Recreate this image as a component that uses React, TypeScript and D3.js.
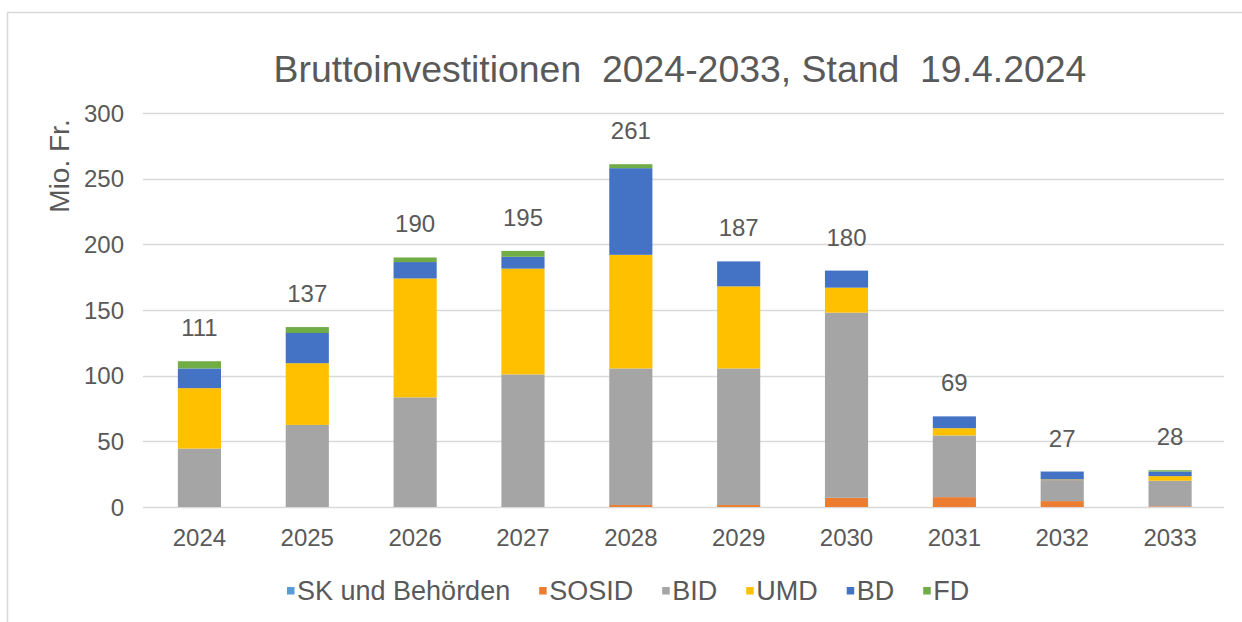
import React, { useEffect, useRef } from "react";
import * as d3 from "d3";

const years = ["2024", "2025", "2026", "2027", "2028", "2029", "2030", "2031", "2032", "2033"];
const seriesNames = ["SK und Behörden", "SOSID", "BID", "UMD", "BD", "FD"];
const skValues = [0, 0, 0, 0, 0, 0, 0, 0, 0, 0];
const sosidValues = [0, 0, 0, 0, 1.5, 1.5, 7, 7.5, 4.5, 0.5];
const bidValues = [44.5, 62.5, 83.5, 101, 104, 104, 141, 47, 16, 19.5];
const umdValues = [46, 47, 90.5, 80.5, 86.5, 62.5, 19, 5.5, 0.5, 3.5];
const bdValues = [15, 23, 12.5, 9, 66, 19, 13, 9, 6, 3.5];
const fdValues = [5.5, 4.5, 3.5, 4.5, 3, 0, 0, 0, 0, 1];
const yTicks = [0, 50, 100, 150, 200, 250, 300];
const colors = ["#5B9BD5", "#ED7D31", "#A5A5A5", "#FFC000", "#4472C4", "#70AD47"];

const W = 1242;
const H = 622;
const FONT = "'Liberation Sans', Arial, sans-serif";
const TEXT = "#595959";

export default function App() {
  const ref = useRef<SVGSVGElement | null>(null);

  useEffect(() => {
    const svg = d3.select(ref.current);
    svg.selectAll("*").remove();

    const allSeries = [skValues, sosidValues, bidValues, umdValues, bdValues, fdValues];
    const rows = years.map((y, i) => {
      const r: any = { year: y };
      seriesNames.forEach((s, k) => (r[s] = allSeries[k][i]));
      return r;
    });
    const stacked = d3.stack<any>().keys(seriesNames)(rows);

    const x = d3.scaleBand<string>().domain(years).range([145.5, 1224]).paddingInner(0.6).paddingOuter(0.3);
    const y = d3.scaleLinear().domain([0, 300]).range([507, 113]);

    // frame
    svg.append("rect").attr("x", 7.5).attr("y", 12.5).attr("width", 1400).attr("height", 800)
      .attr("fill", "none").attr("stroke", "#D9D9D9").attr("stroke-width", 1.5);

    // title
    svg.append("text").attr("x", 680).attr("y", 82).attr("text-anchor", "middle")
      .attr("font-family", FONT).attr("font-size", 37.4).attr("fill", TEXT)
      .style("white-space", "pre")
      .text("Bruttoinvestitionen  2024-2033, Stand  19.4.2024");

    // gridlines
    svg.append("g").selectAll("line").data(yTicks).join("line")
      .attr("x1", 143).attr("x2", 1224)
      .attr("y1", (d) => Math.round(y(d)) + 0.5).attr("y2", (d) => Math.round(y(d)) + 0.5)
      .attr("stroke", "#D9D9D9").attr("stroke-width", 1.3);

    // y tick labels
    svg.append("g").selectAll("text").data(yTicks).join("text")
      .attr("x", 124).attr("y", (d) => y(d)).attr("dy", "0.36em").attr("text-anchor", "end")
      .attr("font-family", FONT).attr("font-size", 24).attr("fill", TEXT)
      .text((d) => String(d));

    // y axis title
    svg.append("text").attr("transform", "translate(69,166) rotate(-90)").attr("text-anchor", "middle")
      .attr("font-family", FONT).attr("font-size", 28).attr("fill", TEXT).text("Mio. Fr.");

    // bars
    svg.append("g").selectAll("g").data(stacked).join("g")
      .attr("fill", (_d, i) => colors[i])
      .selectAll("rect").data((d) => d.map((p) => ({ p, year: p.data.year }))).join("rect")
      .attr("x", (d) => x(d.year)!)
      .attr("width", x.bandwidth())
      .attr("y", (d) => y(d.p[1]))
      .attr("height", (d) => Math.max(0, y(d.p[0]) - y(d.p[1])));

    // totals
    const totals = years.map((_y, i) => allSeries.reduce((s, arr) => s + arr[i], 0));
    svg.append("g").selectAll("text").data(years).join("text")
      .attr("x", (d) => x(d)! + x.bandwidth() / 2)
      .attr("y", (_d, i) => y(totals[i]) - 25)
      .attr("text-anchor", "middle")
      .attr("font-family", FONT).attr("font-size", 24).attr("fill", TEXT)
      .text((_d, i) => String(Math.round(totals[i])));

    // x labels
    svg.append("g").selectAll("text").data(years).join("text")
      .attr("x", (d) => x(d)! + x.bandwidth() / 2).attr("y", 546).attr("text-anchor", "middle")
      .attr("font-family", FONT).attr("font-size", 24).attr("fill", TEXT)
      .text((d) => d);

    // legend
    const lg = svg.append("g");
    let cx = 287;
    seriesNames.forEach((name, i) => {
      lg.append("rect").attr("x", cx).attr("y", 587).attr("width", 7.5).attr("height", 7.5).attr("fill", colors[i]);
      const t = lg.append("text").attr("x", cx + 10).attr("y", 600)
        .attr("font-family", FONT).attr("font-size", 27).attr("fill", TEXT).text(name);
      const w = (t.node() as SVGTextElement).getComputedTextLength();
      cx += 10 + w + 29;
    });
  }, []);

  return (
    <svg ref={ref} width={W} height={H}
      style={{ position: "absolute", left: 0, top: 0, background: "#fff", display: "block" }} />
  );
}
